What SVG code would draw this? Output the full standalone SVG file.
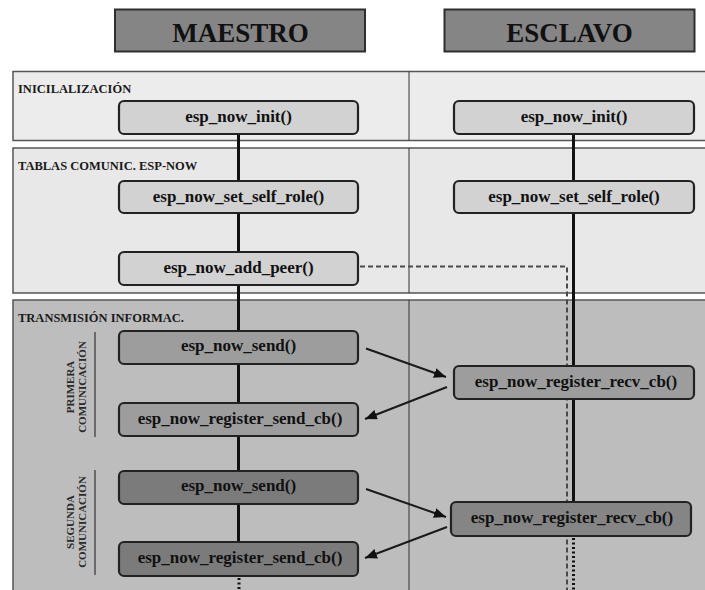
<svg xmlns="http://www.w3.org/2000/svg" width="705" height="590" viewBox="0 0 705 590">
  <style>
    .title { font-family: "Liberation Serif", "Times New Roman", serif; font-weight: bold; font-size: 27px; fill: #111; text-anchor: middle; }
    .sec { font-family: "Liberation Serif", "Times New Roman", serif; font-weight: bold; font-size: 12.5px; fill: #1a1a1a; }
    .vlab { font-family: "Liberation Serif", "Times New Roman", serif; font-weight: bold; font-size: 11px; fill: #2a2a2a; text-anchor: middle; }
    .fn { font-family: "Liberation Serif", "Times New Roman", serif; font-weight: bold; font-size: 17px; fill: #111; text-anchor: middle; }
    .hdr { fill: #858585; stroke: #2e2e2e; stroke-width: 2; }
    .band { stroke: #555; stroke-width: 1.5; }
    .box { stroke: #222; stroke-width: 2.2; }
    .b1 { fill: #d2d2d2; }
    .b2 { fill: #9d9d9d; }
    .b3 { fill: #7b7b7b; }
    .life { stroke: #111; stroke-width: 3; fill: none; }
    .dotted { stroke: #111; stroke-width: 3; stroke-dasharray: 2 2.5; fill: none; }
    .peer { stroke: #4a4a4a; stroke-width: 2; stroke-dasharray: 5 3; fill: none; }
    .msg { stroke: #1a1a1a; stroke-width: 2; fill: none; marker-end: url(#arrow); }
  </style>
  <defs>
    <marker id="arrow" viewBox="0 0 12 10" refX="12" refY="5" markerWidth="12" markerHeight="10" markerUnits="userSpaceOnUse" orient="auto">
      <path d="M0,0 L12,5 L0,10 Z" fill="#111"/>
    </marker>
  </defs>

  <rect width="705" height="590" fill="#ffffff"/>

  <!-- column headers -->
  <g id="hdr-maestro">
    <rect class="hdr" x="115" y="9.5" width="250" height="42"/>
    <text class="title" x="240.5" y="41.5">MAESTRO</text>
  </g>
  <g id="hdr-esclavo">
    <rect class="hdr" x="444.5" y="9.5" width="250" height="42"/>
    <text class="title" x="569.5" y="41.5">ESCLAVO</text>
  </g>

  <!-- phase bands -->
  <g id="band-init">
    <rect class="band" x="13" y="71.5" width="700" height="69" fill="#ececec"/>
    <text class="sec" x="18" y="93">INICILALIZACIÓN</text>
  </g>
  <g id="band-tables">
    <rect class="band" x="13" y="148" width="700" height="145" fill="#e8e8e8"/>
    <text class="sec" x="18" y="169.5">TABLAS COMUNIC. ESP-NOW</text>
  </g>
  <g id="band-tx">
    <rect class="band" x="13" y="300" width="700" height="295" fill="#bdbdbd"/>
    <text class="sec" x="18" y="321.5">TRANSMISIÓN INFORMAC.</text>
  </g>

  <!-- column divider -->
  <g id="divider">
    <line x1="409" y1="71.5" x2="409" y2="140.5" stroke="#333" stroke-width="1"/>
    <line x1="409" y1="148" x2="409" y2="293" stroke="#333" stroke-width="1"/>
    <line x1="409" y1="300" x2="409" y2="590" stroke="#333" stroke-width="1"/>
  </g>

  <!-- communication round labels -->
  <g id="lbl-primera">
    <line x1="95" y1="332" x2="95" y2="437" stroke="#333" stroke-width="1.2"/>
    <text class="vlab" transform="translate(73.5,387) rotate(-90)">PRIMERA</text>
    <text class="vlab" transform="translate(85.5,387) rotate(-90)">COMUNICACIÓN</text>
  </g>
  <g id="lbl-segunda">
    <line x1="95" y1="470" x2="95" y2="575" stroke="#333" stroke-width="1.2"/>
    <text class="vlab" transform="translate(73.5,522) rotate(-90)">SEGUNDA</text>
    <text class="vlab" transform="translate(85.5,522) rotate(-90)">COMUNICACIÓN</text>
  </g>

  <!-- lifelines and messages -->
  <g id="connectors">
    <line class="life" x1="238.5" y1="134" x2="238.5" y2="542"/>
    <line class="dotted" x1="239" y1="578" x2="239" y2="590"/>
    <polyline class="peer" points="360,266.5 567,266.5 567,590"/>
    <line class="life" x1="573.5" y1="134" x2="573.5" y2="502"/>
    <line class="dotted" x1="573.5" y1="538" x2="573.5" y2="590"/>
    <line class="msg" x1="366" y1="348.5" x2="446" y2="377"/>
    <line class="msg" x1="447" y1="387" x2="365" y2="419"/>
    <line class="msg" x1="366" y1="489" x2="446" y2="517"/>
    <line class="msg" x1="447" y1="527" x2="365" y2="558"/>
  </g>

  <!-- master calls -->
  <g id="m-init">
    <rect class="box b1" x="119" y="101" width="239" height="33" rx="5"/>
    <text class="fn" x="238.5" y="122">esp_now_init()</text>
  </g>
  <g id="m-role">
    <rect class="box b1" x="119" y="181" width="239" height="32" rx="5"/>
    <text class="fn" x="238.5" y="202">esp_now_set_self_role()</text>
  </g>
  <g id="m-peer">
    <rect class="box b1" x="119" y="252" width="239" height="33" rx="5"/>
    <text class="fn" x="238.5" y="273">esp_now_add_peer()</text>
  </g>
  <g id="m-send-1">
    <rect class="box b2" x="119" y="331" width="239" height="33" rx="5"/>
    <text class="fn" x="238.5" y="351">esp_now_send()</text>
  </g>
  <g id="m-sendcb-1">
    <rect class="box b2" x="119" y="403" width="239" height="33" rx="5"/>
    <text class="fn" x="240" y="424">esp_now_register_send_cb()</text>
  </g>
  <g id="m-send-2">
    <rect class="box b3" x="119" y="471" width="239" height="33" rx="5"/>
    <text class="fn" x="238.5" y="491">esp_now_send()</text>
  </g>
  <g id="m-sendcb-2">
    <rect class="box b3" x="119" y="542" width="239" height="34" rx="5"/>
    <text class="fn" x="240" y="563">esp_now_register_send_cb()</text>
  </g>

  <!-- slave calls -->
  <g id="s-init">
    <rect class="box b1" x="454" y="101" width="240" height="33" rx="5"/>
    <text class="fn" x="574" y="122">esp_now_init()</text>
  </g>
  <g id="s-role">
    <rect class="box b1" x="454" y="181" width="240" height="32" rx="5"/>
    <text class="fn" x="574" y="202">esp_now_set_self_role()</text>
  </g>
  <g id="s-recv-1">
    <rect class="box b2" x="454" y="366" width="240" height="33" rx="5"/>
    <text class="fn" x="576" y="387">esp_now_register_recv_cb()</text>
  </g>
  <g id="s-recv-2">
    <rect class="box" fill="#858585" x="451" y="502" width="240" height="34" rx="5"/>
    <text class="fn" x="572" y="523">esp_now_register_recv_cb()</text>
  </g>
</svg>
